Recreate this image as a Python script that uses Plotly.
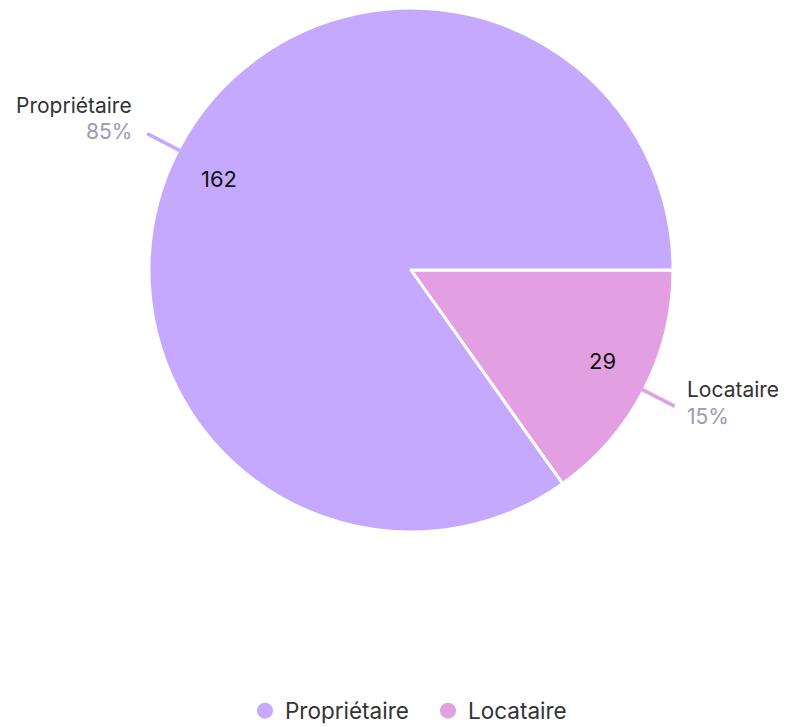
import math
import plotly.graph_objects as go

labels = ["Propriétaire", "Locataire"]
values = [162, 29]
colors = ["#C5A9FE", "#E2A0E2"]

W, H = 788, 727
OFF = 8  # page body margin
DH = 262  # half size of the pie domain (px)
CX, CY = 411 - OFF, DH
R = DH - 3

total = sum(values)
fig = go.Figure()
# drawn clockwise from 3 o'clock: Locataire first, then Propriétaire
fig.add_trace(go.Pie(
    labels=labels[::-1], values=values[::-1], sort=False, direction="clockwise",
    rotation=90, textinfo="none", hoverinfo="label+value+percent",
    marker=dict(colors=colors[::-1], line=dict(color="white", width=3)),
    domain=dict(x=[(CX - DH) / W, (CX + DH) / W],
                y=[max(0, 1 - (CY + DH) / H), min(1, 1 - (CY - DH) / H)]),
    showlegend=False,
))
for lab, col in zip(labels, colors):
    fig.add_trace(go.Scatter(x=[None], y=[None], mode="markers", name=lab,
                             marker=dict(color=col, size=22, symbol="circle")))

def px(x, y):
    return x / W, 1 - y / H

start = 0.0
annotations = []
shapes = []
for i, (lab, v, col) in enumerate(zip(labels, values, colors)):
    frac = v / total
    midd = start + frac * 360 / 2
    start += frac * 360
    c, s = math.cos(math.radians(midd)), math.sin(math.radians(midd))
    cv, sv = math.cos(math.radians(midd + 2)), math.sin(math.radians(midd + 2))
    vx, vy = CX + 0.82 * R * cv, CY - 0.82 * R * sv
    ax, ay = px(vx, vy)
    annotations.append(dict(x=ax, y=ay, xref="paper", yref="paper", text=str(v),
                            xanchor="center", yanchor="middle",
                            showarrow=False, font=dict(size=22, color="#111111")))
    x0, y0 = CX + (R + 1) * c, CY - (R + 1) * s
    x1, y1 = CX + (R + 38) * c, CY - (R + 38) * s
    p0, p1 = px(x0, y0), px(x1, y1)
    shapes.append(dict(type="line", xref="paper", yref="paper", x0=p0[0], y0=p0[1],
                       x1=p1[0], y1=p1[1], line=dict(color=col, width=3.5)))
    pct = f"{round(frac * 100)}%"
    if c < 0:
        tx = x1 - 13
        ty_lab, ty_pct = y1 - 28, y1 - 2
        anchor = "right"
    else:
        tx = x1 + 10
        ty_lab, ty_pct = y1 - 17, y1 + 10
        anchor = "left"
    a = px(tx, ty_lab)
    annotations.append(dict(x=a[0], y=a[1], xref="paper", yref="paper", text=lab,
                            xanchor=anchor, yanchor="middle", showarrow=False,
                            font=dict(size=21, color="#333333")))
    b = px(tx, ty_pct)
    annotations.append(dict(x=b[0], y=b[1], xref="paper", yref="paper", text=pct,
                            xanchor=anchor, yanchor="middle", showarrow=False,
                            font=dict(size=21, color="#9B9BB3")))

fig.update_layout(
    width=W, height=H, margin=dict(l=0, r=0, t=0, b=0),
    paper_bgcolor="white", plot_bgcolor="white",
    font=dict(family="Inter, Roboto, sans-serif", size=22, color="#333333"),
    xaxis=dict(visible=False), yaxis=dict(visible=False),
    legend=dict(orientation="h", x=(263 - OFF - 18) / W, xanchor="left",
                y=1 - (711 - OFF) / H, yanchor="middle", entrywidth=138,
                font=dict(size=22.5, color="#333333"), itemsizing="trace"),
    annotations=annotations, shapes=shapes,
)
fig.write_html("out.html")
